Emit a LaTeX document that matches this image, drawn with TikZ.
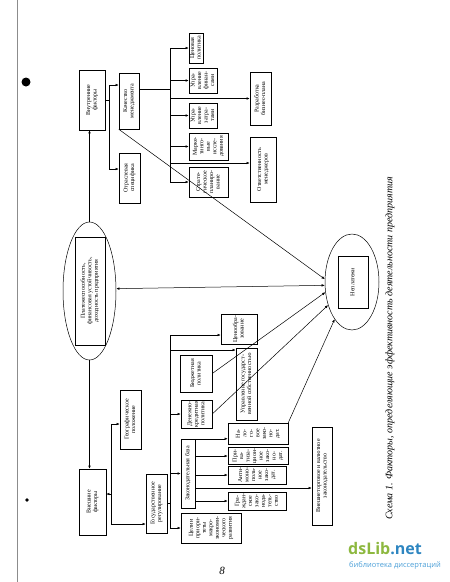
\documentclass[tikz,border=0pt]{standalone}
\usepackage{fontspec}
\setmainfont{Liberation Serif}
\setsansfont{Open Sans}
\usepackage{graphicx}
\usetikzlibrary{shapes.geometric,arrows.meta,calc}
\definecolor{dsgreen}{HTML}{8DB83F}
\definecolor{dsblue}{HTML}{2E86C1}
\definecolor{dslight}{HTML}{4A9FD8}
\newcommand{\rt}[1]{\rotatebox{90}{\begin{tabular}{@{}c@{}}#1\end{tabular}}}
\begin{document}
\begin{tikzpicture}[x=1pt,y=-1pt,
 box/.style={draw, line width=0.5pt, inner sep=0.5pt, font=\fontsize{6}{6.5}\selectfont},
 conn/.style={line width=0.5pt},
 arr/.style={conn, -{Latex[length=3.2pt,width=2.6pt]}},
 darr/.style={conn, {Latex[length=3.2pt,width=2.6pt]}-{Latex[length=3.2pt,width=2.6pt]}},
 ell/.style={draw, ellipse, line width=0.5pt, inner sep=0pt}]
\useasboundingbox (0,0) rectangle (450,582);
\fill[white] (0,0) rectangle (450,582);
% scan artifacts
\draw[black!45, line width=0.7pt] (17,0) -- (17,582);
\fill (26,82) circle (4.5);
\fill (27,500) circle (1.8);
% upper part
\node[box, minimum width=26pt, minimum height=60pt] (vnutr) at (92,100) {\rt{Внутренние\\факторы}};
\node[box, minimum width=20pt, minimum height=56pt] (kach) at (129,101) {\rt{Качество\\менеджмента}};
\node[box, minimum width=21pt, minimum height=50pt] (otrasl) at (129.5,178) {\rt{Отраслевая\\специфика}};
\node[box, minimum width=14pt, minimum height=30pt] (cen) at (196,48) {\rt{Ценовая\\политика}};
\node[box, minimum width=28pt, minimum height=25pt] (upfin) at (203,80.5) {\rt{Упра-\\вление\\финан-\\сами}};
\node[box, minimum width=21pt, minimum height=53pt] (razr) at (260.5,98.5) {\rt{Разработка\\бизнес-плана}};
\node[box, minimum width=28pt, minimum height=25pt] (upzat) at (203,115.5) {\rt{Упра-\\вление\\затра-\\тами}};
\node[box, minimum width=39pt, minimum height=27pt] (mark) at (208.5,146.5) {\rt{Марке-\\тинго-\\вые\\иссле-\\дования}};
\node[box, minimum width=26pt, minimum height=65pt] (otv) at (263,169.5) {\rt{Ответственность\\менеджеров}};
\node[box, minimum width=39pt, minimum height=30pt] (strat) at (208.5,182) {\rt{Страте-\\гическое\\планиро-\\вание}};
% ellipses
\node[ell, minimum width=53pt, minimum height=138pt] (plat) at (89.5,291) {};
\node[box, minimum width=30pt, minimum height=108pt] (platbox) at (90,291) {\rt{Платежеспособность,\\финансовая устойчивость,\\доходность предприятия}};
\node[ell, minimum width=54pt, minimum height=96pt] (nep) at (352,282) {};
\node[box, minimum width=30pt, minimum height=52pt] (nepbox) at (353,282) {\rt{Неплатежи}};
% lower part
\node[box, minimum width=27pt, minimum height=66pt] (vnesh) at (92.5,502) {\rt{Внешние\\факторы}};
\node[box, minimum width=21pt, minimum height=59pt] (geo) at (130.5,419.5) {\rt{Географическое\\положение}};
\node[box, minimum width=21pt, minimum height=59pt] (gos) at (156.5,503.5) {\rt{Государственное\\регулирование}};
\node[box, minimum width=60pt, minimum height=30pt] (celi) at (211,528) {\rt{Цели и\\приори-\\теты\\макро-\\экономи-\\ческого\\развития}};
\node[box, minimum width=14pt, minimum height=69pt] (zak) at (188,473.5) {\rt{Законодательная база}};
\node[box, minimum width=31pt, minimum height=28pt] (den) at (196.5,414) {\rt{Денежно-\\кредитная\\политика}};
\node[box, minimum width=32pt, minimum height=37pt] (budj) at (196,373.5) {\rt{Бюджетная\\политика}};
\node[box, minimum width=36pt, minimum height=30pt] (cenobr) at (239,329) {\rt{Ценообра-\\зование}};
\node[box, minimum width=21pt, minimum height=72pt] (upgos) at (246.5,384) {\rt{Управление государст-\\венной собственностью}};
\node[box, minimum width=60pt, minimum height=21pt] (nalog) at (258,433.5) {\rt{На-\\ло-\\го-\\вое\\зако-\\но-\\дат.}};
\node[box, minimum width=60pt, minimum height=17pt] (priv) at (258,456) {\rt{При-\\ва-\\тиза-\\цион-\\ное\\зако-\\но-\\дат.}};
\node[box, minimum width=58pt, minimum height=18pt] (anti) at (257,475) {\rt{Анти-\\моно-\\поль-\\ное\\зако-\\дат.}};
\node[box, minimum width=58pt, minimum height=18pt] (grazh) at (257,501) {\rt{Гра-\\ждан-\\ское\\зако-\\нода-\\тель-\\ство}};
\node[box, minimum width=20pt, minimum height=98pt] (vneshtorg) at (322,476) {\rt{Внешнеторговое и валютное\\законодательство}};
% upper connectors
\coordinate (ja) at (109,100);
\draw[conn] (vnutr.east) -- (ja);
\draw[arr] (ja) |- ([yshift=16pt]kach.west);
\draw[arr] (ja) |- ([yshift=9pt]otrasl.west);
\coordinate (bus) at (170,0);
\coordinate (kq) at ([yshift=12pt]kach.east);
\draw[conn] (kq) -- (bus |- kq);
\draw[conn] (bus |- cen.west) -- (bus |- strat.west);
\foreach \n in {cen,upfin,razr,upzat,mark,strat} \draw[arr] (bus |- \n.west) -- (\n.west);
\coordinate (oq) at ([yshift=6.5pt]otv.west);
\draw[arr] (bus |- oq) -- (oq);
\draw[arr] (kach.south west) -- (nep.174);
% middle connectors
\draw[arr] (plat.north) -- (plat.north |- vnutr.south);
\draw[arr] (plat.south) -- (plat.south |- vnesh.north);
\draw[darr] (plat.5) -- (nep.187);
\draw[arr] (budj.east) -- (nep.201);
\draw[arr] (den.east) -- (nep.224);
\draw[arr] (nalog.north east) -- (nep.245);
% lower connectors
\coordinate (busA) at (111,0);
\coordinate (vq) at ([yshift=8pt]vnesh.east);
\coordinate (gq) at ([yshift=-4.5pt]geo.west);
\coordinate (sq) at ([yshift=-20.5pt]gos.west);
\draw[arr] (busA |- vq) -- (vq);
\draw[conn] (busA |- gq) -- (busA |- sq);
\draw[arr] (busA |- gq) -- (gq);
\draw[arr] (busA |- sq) -- (sq);
\coordinate (busB) at (170,0);
\coordinate (cq) at ([yshift=-6pt]cenobr.west);
\coordinate (uq) at ([yshift=34pt]upgos.west);
\draw[conn] (busB |- cq) -- (busB |- celi.west);
\draw[conn] (gos.east) -- (busB |- gos.east);
\draw[arr] (busB |- cq) -- (cq);
\draw[arr] (busB |- uq) -- (uq);
\foreach \n in {den,zak,celi} \draw[arr] (busB |- \n.west) -- (\n.west);
\draw[arr] (zak.north east) -- (nalog.west |- zak.north east);
\foreach \n in {priv,anti,grazh} \draw[arr] (zak.east |- \n.west) -- (\n.west);
\coordinate (zq) at ([yshift=-14.5pt]zak.east);
\draw[arr] (zq) -- (vneshtorg.west |- zq);
% caption, page number, watermark
\node[rotate=90, inner sep=0pt, font=\fontsize{10}{12}\selectfont\itshape] (cap) at (390,348.5) {Схема 1. Факторы, определяющие эффективность деятельности предприятия};
\node[inner sep=0pt, font=\fontsize{11}{12}\selectfont\itshape] (pg) at (222,571) {8};
\node[inner sep=0pt, anchor=west, font=\sffamily\bfseries\fontsize{16}{18}\selectfont] (wm1) at (348,549) {\textcolor{dsgreen}{dsLib}\textcolor{dsblue}{.net}};
\node[inner sep=0pt, anchor=west, font=\sffamily\fontsize{7.5}{9}\selectfont, text=dslight] (wm2) at (349,566) {библиотека диссертаций};
\end{tikzpicture}
\end{document}
